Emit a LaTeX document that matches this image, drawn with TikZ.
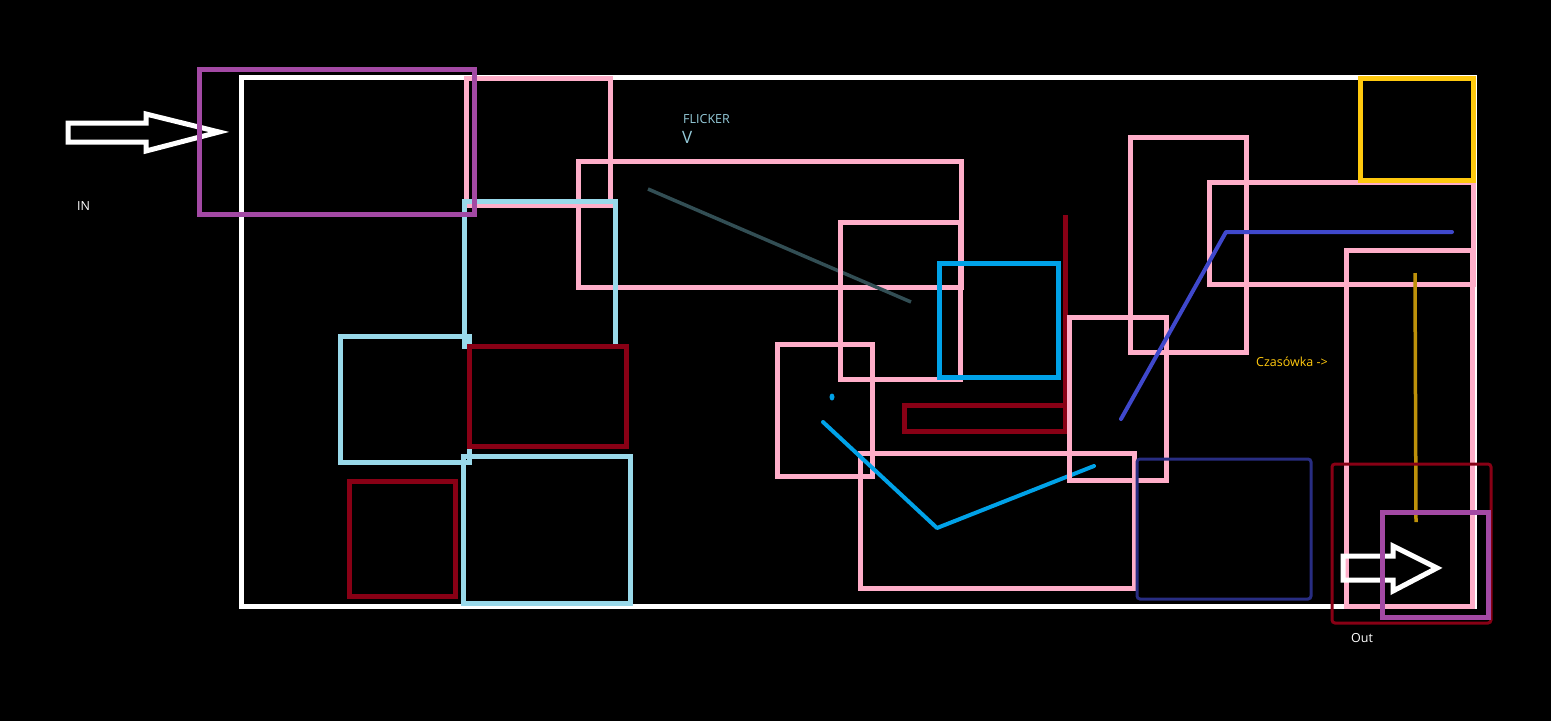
\documentclass[tikz,border=0pt]{standalone}
\usepackage{fontspec}
\setmainfont{Open Sans}
\usepackage{xcolor}
\usetikzlibrary{positioning}

\definecolor{rozowy}{RGB}{255,174,201}
\definecolor{jasnoniebieski}{RGB}{153,217,234}
\definecolor{bordo}{RGB}{136,0,21}
\definecolor{fiolet}{RGB}{163,73,164}
\definecolor{turkus}{RGB}{0,162,232}
\definecolor{indygo}{RGB}{63,72,204}
\definecolor{zolty}{RGB}{255,201,14}
\definecolor{zloty}{RGB}{190,145,10}
\definecolor{granat}{RGB}{40,45,130}
\definecolor{grafit}{RGB}{50,78,84}

\begin{document}
\begin{tikzpicture}[x=1pt, y=-1pt,
    ramka/.style={draw=white, line width=5pt},
    pinkbox/.style={draw=rozowy, line width=5pt},
    bluebox/.style={draw=jasnoniebieski, line width=5pt},
    redbox/.style={draw=bordo, line width=5pt},
    purplebox/.style={draw=fiolet, line width=5pt},
    thinbox/.style={line width=3pt, rounded corners=3pt},
    strzalka/.style={draw=white, line width=5pt, line join=miter},
    kreska/.style={line width=4pt, line cap=round},
    napis/.style={anchor=west, inner sep=0pt, font=\fontsize{12.5}{14}\selectfont}]
\useasboundingbox[fill=black] (0,0) rectangle (1551,721);

% glowna ramka
\draw[ramka] (241,77) rectangle (1474,606);

% wejscie
\draw[strzalka] (68,123) -- (146,123) -- (146,114) -- (219,132) -- (146,151) -- (146,142) -- (68,142) -- cycle;
\node[napis, text=white] (in) at (77,206) {IN};

% lewa strona
\draw[pinkbox] (466,78) rectangle (610,205);
\draw[pinkbox] (578,161) rectangle (961,287);
\draw[bluebox] (464,201) rectangle (615,346);
\draw[purplebox] (199,69) rectangle (474,214);
\draw[bluebox] (340,336) rectangle (469,462);
\draw[redbox] (469,346) rectangle (626,446);
\draw[bluebox] (463,456) rectangle (630,603);
\draw[redbox] (349,481) rectangle (455,596);

% flicker
\draw[grafit, line width=3.5pt] (648,189) -- (911,302);
\node[napis, text=jasnoniebieski!85!gray] (flicker) at (683,119) {FLICKER};
\node[anchor=north west, inner sep=0pt, text=jasnoniebieski!85!gray,
      font=\fontsize{17}{18}\selectfont] (strzalkaV) at (682,131) {V};

% srodek
\draw[pinkbox] (840,222) rectangle (960,379);
\draw[draw=turkus, line width=5pt] (939,263) rectangle (1058,377);
\draw[redbox] (904,405) rectangle (1065,431);
\draw[bordo, line width=5pt] (1065,215) -- (1065,432);
\draw[pinkbox] (777,344) rectangle (872,476);
\fill[turkus] (832,397) ellipse (2.5pt and 3.5pt);
\draw[pinkbox] (860,453) rectangle (1134,588);
\draw[turkus, kreska, line join=round] (823,422) -- (937,528) -- (1094,466);
\draw[pinkbox] (1069,317) rectangle (1166,480);

% prawa strona
\draw[pinkbox] (1130,137) rectangle (1246,352);
\draw[pinkbox] (1209,182) rectangle (1473,284);
\draw[draw=zolty, line width=5pt] (1360,78) rectangle (1473,180);
\draw[indygo, kreska, line join=round] (1121,419) -- (1226,232) -- (1452,232);
\draw[pinkbox] (1346,250) rectangle (1472,606);
\draw[zloty, line width=3.5pt] (1415,273) -- (1416,522);
\node[napis, text=zolty] (czasowka) at (1256,362) {Czasówka ->};
\draw[granat, thinbox] (1137,459) rectangle (1311,599);

% wyjscie
\draw[bordo, thinbox] (1332,464) rectangle (1491,623);
\draw[strzalka] (1343,556) -- (1393,556) -- (1393,546) -- (1437,568) -- (1393,591) -- (1393,580) -- (1343,580) -- cycle;
\draw[purplebox] (1382,512) rectangle (1488,617);
\node[napis, text=white] (out) at (1351,638) {Out};
\end{tikzpicture}
\end{document}
